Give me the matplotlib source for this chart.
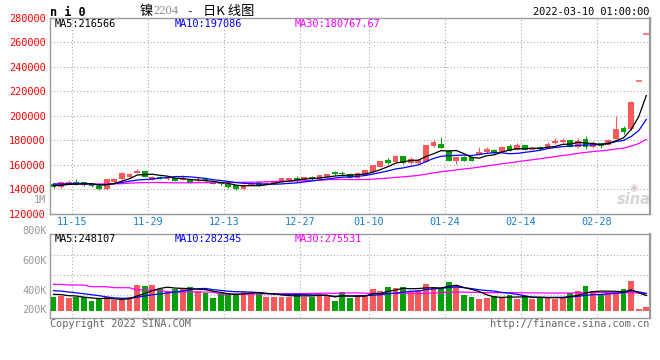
import matplotlib
matplotlib.use("Agg")
import matplotlib.pyplot as plt
import numpy as np
import pandas as pd

# ---------------- data ----------------
dates = ["11-10", "11-11", "11-12", "11-15", "11-16", "11-17", "11-18", "11-19", "11-22", "11-23",
         "11-24", "11-25", "11-26", "11-29", "11-30", "12-01", "12-02", "12-03", "12-06", "12-07",
         "12-08", "12-09", "12-10", "12-13", "12-14", "12-15", "12-16", "12-17", "12-20", "12-21",
         "12-22", "12-23", "12-24", "12-27", "12-28", "12-29", "12-30", "12-31", "01-04", "01-05",
         "01-06", "01-07", "01-10", "01-11", "01-12", "01-13", "01-14", "01-17", "01-18", "01-19",
         "01-20", "01-21", "01-24", "01-25", "01-26", "01-27", "01-28", "02-07", "02-08", "02-09",
         "02-10", "02-11", "02-14", "02-15", "02-16", "02-17", "02-18", "02-21", "02-22", "02-23",
         "02-24", "02-25", "02-28", "03-01", "03-02", "03-03", "03-04", "03-07", "03-08"]

opens = [144000, 141600, 144900, 145700, 145700, 143800, 143000, 140200, 145700, 148200,
         149800, 153500, 154900, 147900, 149800, 148500, 149000, 148000, 148000, 146500,
         148500, 145800, 145500, 144500, 143500, 140200, 143900, 145700, 143900, 144400,
         146000, 147600, 149500, 147600, 150300, 148400, 150300, 154000, 153100, 152500,
         149500, 151800, 154400, 158600, 164200, 162400, 167200, 161200, 161500, 162600,
         175500, 177300, 171500, 163300, 166600, 166600, 168000, 170200, 172300, 170800,
         175600, 172100, 176200, 172200, 174500, 174000, 177400, 178800, 180200, 174300,
         181200, 174300, 177600, 176200, 181300, 190300, 189000, 228200, 266960]
closes = [142000, 145800, 146200, 144300, 143600, 143000, 140200, 148200, 148400, 153700,
          152600, 155200, 150200, 149800, 149200, 149200, 147100, 148800, 145500, 147500,
          146400, 144500, 144200, 141500, 140400, 143300, 145500, 143800, 145500, 146200,
          149000, 149200, 147800, 149800, 148200, 151400, 152500, 152200, 152500, 149300,
          153000, 155500, 159500, 162800, 161500, 167200, 161200, 164800, 164200, 176200,
          178800, 173800, 163500, 166000, 163500, 163500, 170500, 173300, 170000, 174800,
          171500, 176500, 172100, 173500, 172600, 177200, 179600, 180600, 174600, 179700,
          174500, 177800, 175600, 180500, 189300, 186900, 211500, 228200, 266960]
highs = [144500, 146500, 147500, 148400, 146000, 144200, 143500, 148600, 149000, 154000,
         153200, 156600, 155200, 150500, 150500, 151000, 149500, 151500, 148500, 150300,
         149000, 146200, 145800, 145000, 143800, 143600, 146000, 146500, 146000, 146500,
         149300, 149500, 151000, 150200, 150600, 151800, 152800, 155300, 155000, 153000,
         154500, 156000, 160000, 163500, 165500, 167600, 167500, 166000, 164600, 176500,
         180000, 182800, 172000, 166500, 167000, 167000, 174800, 174500, 173000, 175200,
         176600, 177600, 176500, 174000, 175300, 178300, 182000, 181800, 180500, 181800,
         183500, 179500, 178000, 180900, 199800, 191800, 211800, 228200, 266960]
lows = [141300, 141000, 144500, 143800, 143000, 141800, 139800, 139800, 145200, 147800,
        149500, 153200, 150000, 147500, 148500, 147300, 146800, 147800, 145000, 146000,
        146000, 144000, 143800, 141000, 139800, 139800, 143500, 143000, 143500, 144000,
        145800, 147200, 146200, 147300, 147800, 148000, 150000, 151500, 150800, 149000,
        149200, 151500, 154000, 158200, 160500, 162000, 161000, 160500, 161000, 162300,
        174500, 173500, 163200, 161000, 163200, 163200, 167600, 169800, 168500, 170400,
        171200, 171800, 171800, 171900, 172300, 173600, 177000, 177600, 174200, 174000,
        172800, 174000, 173800, 175800, 181000, 185200, 188600, 228200, 266960]
volumes = [229000, 240000, 203000, 219000, 219000, 165000, 192000, 219000, 176000, 176000,
           219000, 416000, 400000, 416000, 352000, 320000, 347000, 373000, 389000, 320000,
           283000, 213000, 283000, 283000, 272000, 309000, 293000, 309000, 229000, 229000,
           229000, 229000, 293000, 229000, 229000, 272000, 240000, 160000, 309000, 213000,
           256000, 256000, 352000, 320000, 384000, 368000, 384000, 325000, 336000, 432000,
           384000, 363000, 464000, 416000, 256000, 229000, 192000, 208000, 235000, 224000,
           256000, 192000, 235000, 192000, 224000, 224000, 192000, 224000, 293000, 315000,
           405000, 315000, 262000, 290000, 304000, 352000, 483000, 32000, 69000]

# moving-average values before the windows are full
ma5_head = [143000, 143200, 144000, 144200]
ma10_head = [144300, 144300, 144600, 144800, 144800, 144200, 143600, 143800, 144600]
ma30_head = [144200, 144200, 144300, 144300, 144300, 144300, 144400, 144400, 144500, 144600,
             145000, 145300, 145500, 145500, 145500, 145400, 145300, 145300, 145300, 145400,
             145400, 145400, 145500, 145500, 145600, 145700, 145800, 145900, 146100]
vma5_head = [267000, 262000, 245000, 240000]
vma10_head = [325000, 318000, 304000, 290000, 276000, 261000, 245000, 225000, 210000]
vma30_head = [427000, 427000, 416000, 416000, 415000, 389000, 389000, 388000, 373000, 373000,
              372000, 336000, 336000, 335000, 335000, 305000, 304000, 304000, 304000, 303000,
              303000, 302000, 270000, 270000, 270000, 270000, 272000, 272000, 275000]

tick_dates = ["11-15", "11-29", "12-13", "12-27", "01-10", "01-24", "02-14", "02-28"]
price_ticks = [120000, 140000, 160000, 180000, 200000, 220000, 240000, 260000, 280000]
vol_axis_labels = ["1M", "800K", "600K", "400K", "200K"]

price_ma_texts = ["MA5:216566", "MA10:197086", "MA30:180767.67"]
vol_ma_texts = ["MA5:248107", "MA10:282345", "MA30:275531"]
title_code = "n i 0"
title_cn = ["镍", "2204", "-", "日K 线图"]
timestamp = "2022-03-10 01:00:00"
footer_left = "Copyright 2022 SINA.COM"
footer_right = "http://finance.sina.com.cn"

# ---------------- styling ----------------
RED = "#f65a5a"
GREEN = "#08a008"
GRID = "#aaaaaa"
FRAME = "#9a9a9a"
MONO = "DejaVu Sans Mono"
CJK = ["Noto Sans CJK SC", "DejaVu Sans"]
W, H = 660, 360


def fx(px):
    return px / W


def fy(py):
    return 1 - py / H


def moving_average(values, window, head):
    s = pd.Series(values, dtype=float).rolling(window).mean().to_numpy()
    s[:window - 1] = head
    return s


o = np.array(opens, float)
c = np.array(closes, float)
hi = np.array(highs, float)
lo = np.array(lows, float)
v = np.array(volumes, float)
n = len(dates)
x = np.arange(n)
up = c >= o
col = np.where(up, RED, GREEN)

ma5 = moving_average(closes, 5, ma5_head)
ma10 = moving_average(closes, 10, ma10_head)
ma30 = moving_average(closes, 30, ma30_head)
vma5 = moving_average(volumes, 5, vma5_head)
vma10 = moving_average(volumes, 10, vma10_head)
vma30 = moving_average(volumes, 30, vma30_head)

fig = plt.figure(figsize=(6.6, 3.6), dpi=100)
fig.patch.set_facecolor("white")

ax = fig.add_axes([fx(50.5), fy(213.8), (649.5 - 50.5) / W, (213.8 - 17.8) / H])
axv = fig.add_axes([fx(50.5), fy(318), (649.5 - 50.5) / W, (318 - 234) / H])

xlim = (-0.395, n - 0.58)
tick_pos = [dates.index(d) - 0.53 for d in tick_dates]

# ---- price panel ----
ax.vlines(x, lo, hi, colors=col, linewidth=0.8, zorder=3)
flat = (c == o)
bb = np.minimum(o, c)
bh = np.abs(c - o)
ax.bar(x[~flat], bh[~flat], bottom=bb[~flat], width=0.78, color=col[~flat],
       linewidth=0, zorder=3)
ax.hlines(o[flat], x[flat] - 0.39, x[flat] + 0.39, colors=col[flat], linewidth=1.1, zorder=3)
ax.plot(x, ma30, color="#ff00ff", linewidth=0.9, zorder=4)
ax.plot(x, ma10, color="#0000ff", linewidth=0.9, zorder=4)
ax.plot(x, ma5, color="black", linewidth=0.9, zorder=4)

ax.set_xlim(*xlim)
ax.set_ylim(120000, 280000)
ax.set_yticks(price_ticks)
ax.set_yticklabels([str(t) for t in price_ticks], fontfamily=MONO, fontsize=7.4)
ax.set_xticks(tick_pos)
ax.set_xticklabels(tick_dates, fontfamily=MONO, fontsize=7.4)
ax.tick_params(axis="y", length=0, pad=3.2, labelcolor="#ff0000")
ax.tick_params(axis="x", length=0, pad=2.5, labelcolor="#1a80d0")
ax.grid(True, color=GRID, linestyle=(0, (1, 2)), linewidth=0.8, zorder=0)
ax.set_axisbelow(True)
for s in ax.spines.values():
    s.set_color(FRAME)
    s.set_linewidth(1.0)
ax.spines["right"].set_linewidth(1.6)

# ---- volume panel ----
axv.bar(x, v, width=0.76, color=col, linewidth=0, zorder=3)
axv.plot(x, vma30, color="#ff00ff", linewidth=0.9, zorder=4)
axv.plot(x, vma10, color="#0000ff", linewidth=0.9, zorder=4)
axv.plot(x, vma5, color="black", linewidth=0.9, zorder=4)
axv.set_xlim(*xlim)
axv.set_ylim(-112000, 1232000)
axv.set_xticks(tick_pos)
axv.set_xticklabels([])
axv.set_yticks([256000, 576000, 896000])
axv.set_yticklabels([])
axv.tick_params(length=0)
axv.grid(True, color=GRID, linestyle=(0, (1, 2)), linewidth=0.8, zorder=0)
axv.set_axisbelow(True)
for s in axv.spines.values():
    s.set_color(FRAME)
    s.set_linewidth(1.0)
axv.spines["right"].set_linewidth(1.6)

# ---- texts ----
fig.text(fx(50), fy(12), title_code, fontfamily=MONO, fontweight="bold", fontsize=8.5,
         va="center", ha="left", color="black")
fig.text(fx(140), fy(11), title_cn[0], fontfamily=CJK, fontsize=9.5,
         va="center", ha="left", color="black")
fig.text(fx(153.5), fy(11.5), title_cn[1], fontfamily="Liberation Serif", fontsize=9,
         va="center", ha="left", color="#8a8a8a")
fig.text(fx(189.5), fy(11), title_cn[2], fontfamily=MONO, fontsize=8,
         va="center", ha="center", color="black")
fig.text(fx(203), fy(11), title_cn[3], fontfamily=CJK, fontsize=9.5,
         va="center", ha="left", color="black")
fig.text(fx(649), fy(12), timestamp, fontfamily=MONO, fontsize=7.4, va="center", ha="right",
         color="black")

ma_cols = ["black", "#0000ff", "#ff00ff"]
ma_x = [55, 175, 295]
for t, cc, px in zip(price_ma_texts, ma_cols, ma_x):
    fig.text(fx(px), fy(24), t, fontfamily=MONO, fontsize=7.4, va="center", ha="left", color=cc)
for t, cc, px in zip(vol_ma_texts, ma_cols, ma_x):
    fig.text(fx(px), fy(238.5), t, fontfamily=MONO, fontsize=7.4, va="center", ha="left",
             color=cc)

vol_label_y = [200, 231, 261, 291, 310]
for t, py in zip(vol_axis_labels, vol_label_y):
    fig.text(fx(46.5), fy(py), t, fontfamily=MONO, fontsize=7.4, va="center", ha="right",
             color="#999999")

fig.text(fx(50), fy(324), footer_left, fontfamily=MONO, fontsize=7.4, va="center", ha="left",
         color="#666666")
fig.text(fx(649), fy(324), footer_right, fontfamily=MONO, fontsize=7.4, va="center", ha="right",
         color="#666666")

# sina watermark
fig.text(fx(634), fy(200), "sina", fontfamily="DejaVu Sans", fontstyle="italic",
         fontweight="bold", fontsize=10.5, va="center", ha="center", color="#d6d6d6", zorder=1)
fig.text(fx(634), fy(188), "◉", fontfamily="DejaVu Sans", fontsize=7, va="center",
         ha="center", color="#e2c8c8", zorder=1)

fig.savefig("out.png", dpi=100, facecolor="white")
